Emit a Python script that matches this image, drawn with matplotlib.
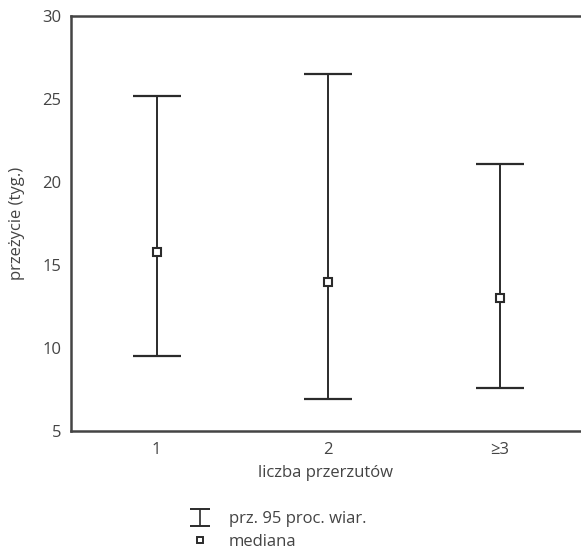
import matplotlib.pyplot as plt
import numpy as np

plt.rcParams["font.family"] = ["Open Sans", "DejaVu Sans"]

GROUPS = ["1", "2", "≥3"]
MEDIAN = [15.8, 14.0, 13.0]
CI_LOW = [9.5, 6.9, 7.6]
CI_HIGH = [25.2, 26.5, 21.1]

INK = "#2b2b2b"
TEXT = "#444444"
FS = 12


def main():
    x = np.arange(1, len(GROUPS) + 1)
    med = np.array(MEDIAN)
    lo = med - np.array(CI_LOW)
    hi = np.array(CI_HIGH) - med

    fig = plt.figure(figsize=(5.81, 5.52), dpi=100)
    ax = fig.add_axes([71 / 581, 1 - 431 / 552, 1 - 71 / 581, 415 / 552])

    ax.errorbar(x, med, yerr=[lo, hi], fmt="none", ecolor=INK,
                elinewidth=1.4, capsize=17.5, capthick=1.6)
    marks, = ax.plot(x, med, "s", ms=5.5, mfc="white", mec=INK, mew=1.5,
                     zorder=3)
    # small proxy (nan, so nothing drawn) to keep the legend key compact
    proxy = ax.errorbar([np.nan], [np.nan], yerr=[1], fmt="none", ecolor=INK,
                        elinewidth=1.2, capsize=7, capthick=1.4)
    key, = ax.plot([], [], "s", ms=4.5, mfc="white", mec=INK, mew=1.4)

    ax.set_xlim(0.5, 3.475)
    ax.set_ylim(5, 30)
    ax.set_xticks(x, GROUPS)
    ax.set_yticks([5, 10, 15, 20, 25, 30])
    ax.tick_params(length=0, labelsize=FS, colors=TEXT, pad=7)
    ax.tick_params(axis="x", pad=8)
    for side in ("left", "bottom", "top"):
        ax.spines[side].set_linewidth(1.8)
        ax.spines[side].set_color("#444444")
    ax.spines["right"].set_visible(False)
    ax.set_xlabel("liczba przerzutów", fontsize=FS, color=TEXT, labelpad=5)
    ax.set_ylabel("przeżycie (tyg.)", fontsize=FS, color=TEXT, labelpad=12)

    fig.legend([proxy, key], ["prz. 95 proc. wiar.", "mediana"],
               loc="upper left", bbox_to_anchor=(182 / 581, 1 - 503 / 552),
               frameon=False, fontsize=FS, labelcolor=TEXT,
               handlelength=1.1, handletextpad=1.2, labelspacing=0.4,
               borderpad=0)

    fig.savefig("out.png", dpi=100)
    plt.close(fig)


if __name__ == "__main__":
    main()
